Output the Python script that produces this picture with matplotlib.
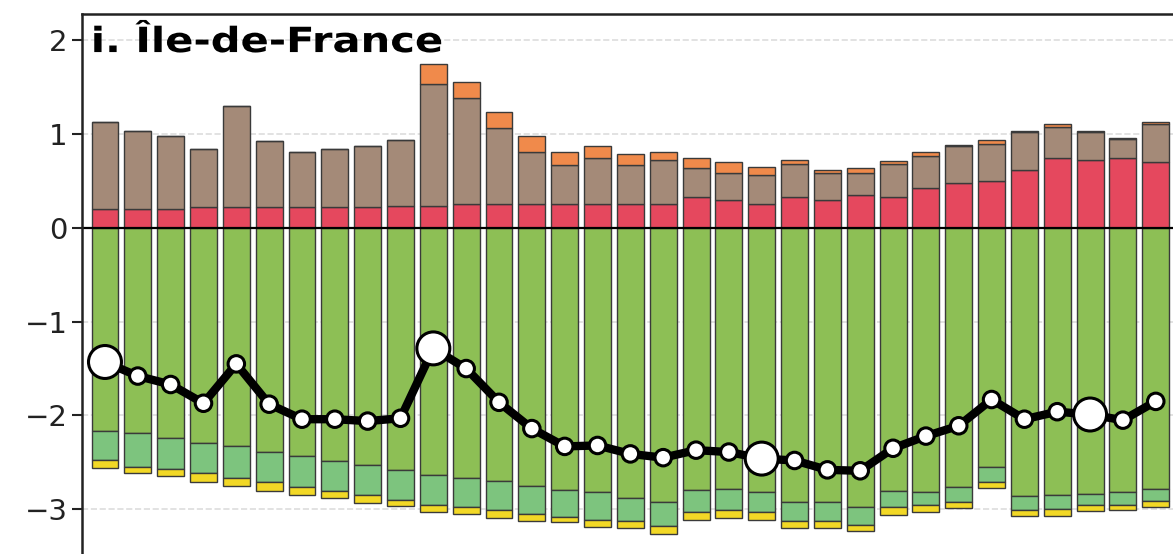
import matplotlib.pyplot as plt
import matplotlib.patheffects as pe
import matplotlib.transforms as mtransforms
import numpy as np

years = np.arange(1990, 2023)

# sinks / sources, stacked per year
red = [0.20, 0.20, 0.20, 0.22, 0.22, 0.22, 0.22, 0.22, 0.22, 0.23,
       0.23, 0.25, 0.25, 0.25, 0.25, 0.25, 0.25, 0.25, 0.33, 0.30,
       0.25, 0.33, 0.30, 0.35, 0.33, 0.42, 0.48, 0.50, 0.62, 0.74,
       0.72, 0.75, 0.70]
brown = [0.93, 0.83, 0.78, 0.62, 1.08, 0.71, 0.59, 0.62, 0.65, 0.71,
         1.30, 1.13, 0.81, 0.56, 0.42, 0.49, 0.42, 0.47, 0.31, 0.29,
         0.31, 0.35, 0.28, 0.23, 0.35, 0.35, 0.39, 0.39, 0.40, 0.34,
         0.30, 0.20, 0.41]
orange = [0.0, 0.0, 0.0, 0.0, 0.0, 0.0, 0.0, 0.0, 0.0, 0.0,
          0.215, 0.17, 0.17, 0.17, 0.14, 0.13, 0.12, 0.09, 0.10, 0.11,
          0.09, 0.04, 0.04, 0.06, 0.03, 0.04, 0.01, 0.05, 0.01, 0.03,
          0.01, 0.01, 0.02]
green = [-2.17, -2.19, -2.24, -2.29, -2.33, -2.39, -2.43, -2.49, -2.53, -2.58,
         -2.63, -2.67, -2.70, -2.75, -2.79, -2.82, -2.88, -2.92, -2.80, -2.78,
         -2.82, -2.92, -2.92, -2.98, -2.81, -2.82, -2.76, -2.55, -2.86, -2.85,
         -2.84, -2.82, -2.78]
lightgreen = [-0.31, -0.36, -0.33, -0.32, -0.34, -0.32, -0.33, -0.32, -0.32, -0.32,
              -0.33, -0.31, -0.31, -0.30, -0.29, -0.29, -0.24, -0.26, -0.23, -0.23,
              -0.21, -0.20, -0.20, -0.19, -0.17, -0.14, -0.16, -0.16, -0.15, -0.15,
              -0.12, -0.13, -0.13]
yellow = [-0.08, -0.06, -0.08, -0.10, -0.08, -0.10, -0.09, -0.07, -0.08, -0.07,
          -0.07, -0.07, -0.08, -0.07, -0.06, -0.08, -0.08, -0.08, -0.08, -0.08,
          -0.08, -0.08, -0.08, -0.06, -0.08, -0.07, -0.07, -0.06, -0.06, -0.07,
          -0.06, -0.06, -0.07]

pos_layers = [(red, '#e5485e'), (brown, '#a48a78'), (orange, '#f08a4b')]
neg_layers = [(green, '#8dbf55'), (lightgreen, '#7dc47e'), (yellow, '#f2d826')]


class StretchX(pe.AbstractPathEffect):
    """Widen glyphs horizontally, anchored at the text origin."""

    def __init__(self, sx):
        super().__init__()
        self.sx = sx

    def draw_path(self, renderer, gc, tpath, affine, rgbFace=None):
        renderer.draw_path(gc, tpath,
                           mtransforms.Affine2D().scale(self.sx, 1) + affine,
                           rgbFace)


fig = plt.figure(figsize=(11.73, 5.54), dpi=100)
ax = fig.add_axes([0.0699, -0.0208, 0.935, 0.9955])

x = np.arange(len(years))
width = 0.82

bottom = np.zeros(len(x))
for vals, col in pos_layers:
    vals = np.array(vals)
    ax.bar(x, vals, width, bottom=bottom, color=col, edgecolor='#3a3a3a',
           linewidth=1.0, zorder=2)
    bottom += vals

neg_bottom = np.zeros(len(x))
for vals, col in neg_layers:
    vals = np.array(vals)
    ax.bar(x, vals, width, bottom=neg_bottom, color=col, edgecolor='#3a3a3a',
           linewidth=1.0, zorder=2)
    neg_bottom += vals

net = bottom + neg_bottom
ax.plot(x, net, color='black', lw=6, zorder=3)
sizes = np.where((years - 1990) % 10 == 0, 26, 13)
ax.scatter(x, net, s=sizes ** 2 / 1.2, facecolor='white', edgecolor='black',
           linewidth=2.2, zorder=4)

ax.axhline(0, color='black', lw=1.6, zorder=2.5)
ax.set_xlim(-0.7, len(x) - 0.3)
ax.set_ylim(-3.6, 2.28)
ax.set_yticks([-3, -2, -1, 0, 1, 2])
ax.set_yticklabels(['\u22123', '\u22122', '\u22121', '0', '1', '2'])
ax.set_xticks([])
ax.tick_params(axis='y', labelsize=21, length=7, width=1.5, colors='#222222')
ax.grid(axis='y', ls='--', color='#dddddd', lw=1.2, zorder=0)
for s in ['right', 'bottom']:
    ax.spines[s].set_visible(False)
for s in ['left', 'top']:
    ax.spines[s].set_linewidth(1.8)
    ax.spines[s].set_color('#222222')

ax.text(0.008, 0.931, 'i. Île-de-France', transform=ax.transAxes,
        fontsize=25, fontweight='bold', va='baseline', ha='left', zorder=5,
        path_effects=[StretchX(1.2)])

fig.savefig('out.png', dpi=100)
